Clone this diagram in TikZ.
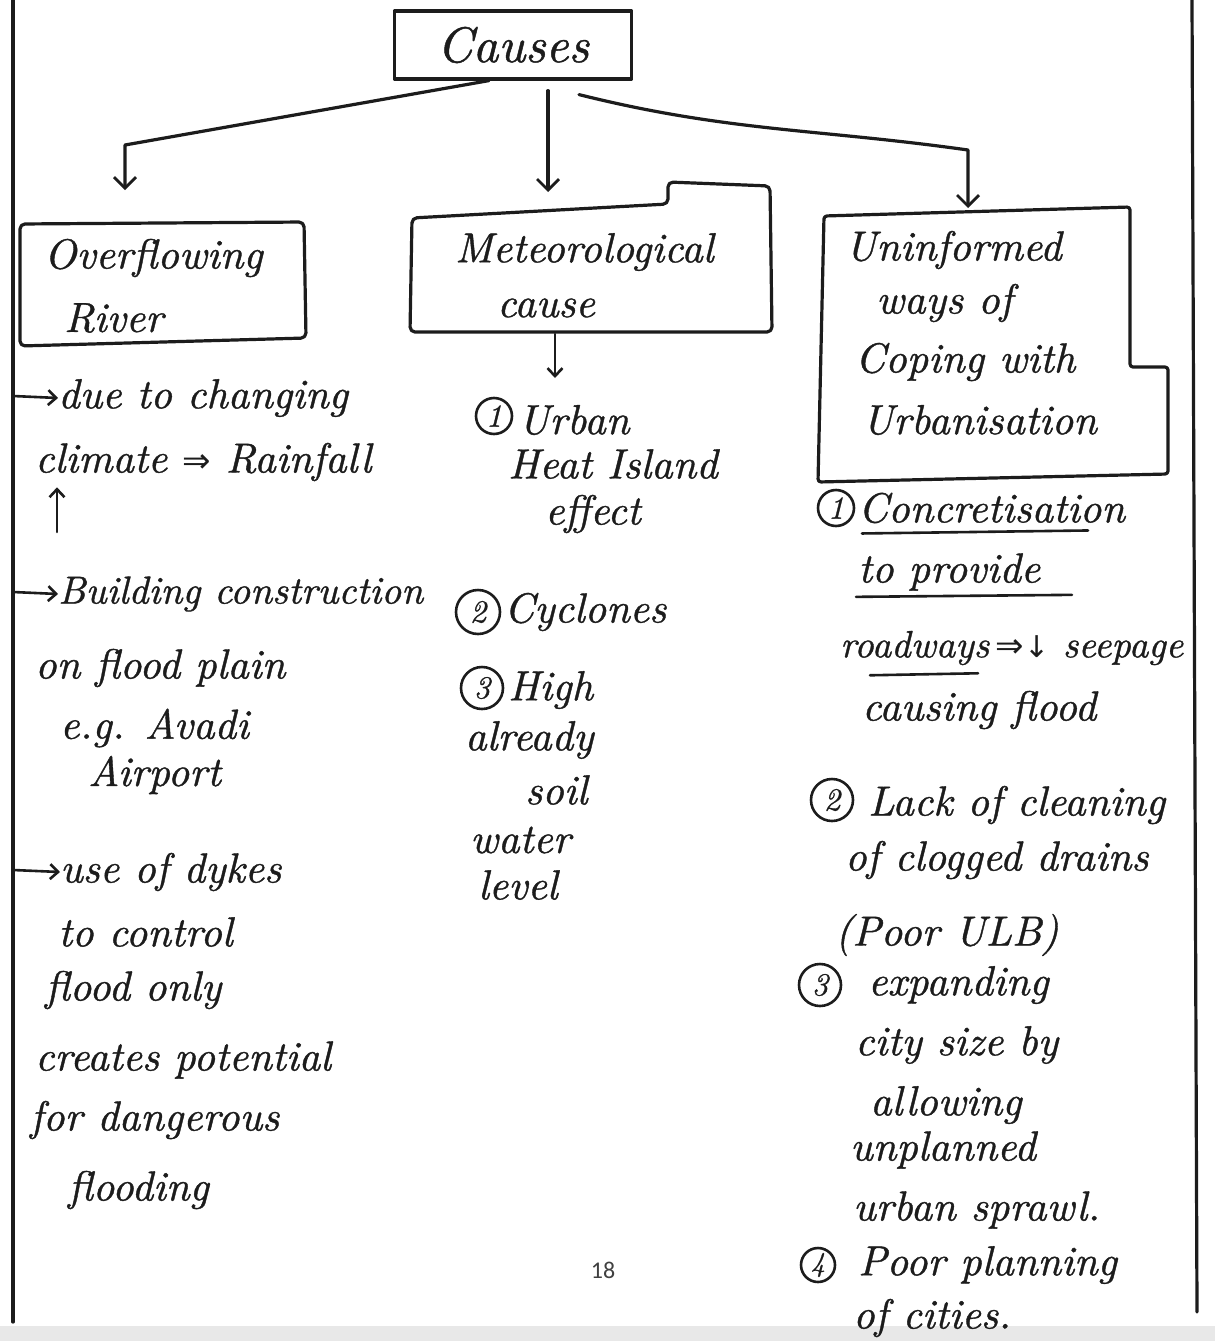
\documentclass[tikz,border=0pt]{standalone}
\usepackage{fontspec}
\newfontfamily\pagenumfont{Carlito}
\newfontfamily\hand{lmroman10-italic.otf}[FakeBold=0.9]
\newfontfamily\symfont{DejaVu Sans}
\usetikzlibrary{arrows.meta}
\definecolor{ink}{HTML}{1C1C1C}
\newcommand{\implarrow}{{\symfont\fontsize{34}{36}\selectfont ⇒}}
\newcommand{\downarr}{{\symfont\fontsize{30}{32}\selectfont ↓}}
\begin{document}
\begin{tikzpicture}[x=1pt,y=-1pt,
  hw/.style={font=\hand\fontsize{42}{46}\selectfont, text=ink, anchor=west, inner sep=0pt},
  pen/.style={draw=ink, line width=3.2pt, line join=round, line cap=round},
  conn/.style={pen, -{Straight Barb[length=11pt,width=22pt,line width=2.8pt]}},
  tick/.style={pen, line width=2.6pt, -{Straight Barb[length=8pt,width=15pt,line width=2.6pt]}},
  num/.style={circle, draw=ink, line width=2.6pt, minimum size=36pt, inner sep=0pt,
    font=\hand\fontsize{32}{34}\selectfont, text=ink},
  uline/.style={draw=ink, line width=2.6pt, line cap=round}
]
\useasboundingbox (0,0) rectangle (1215,1341);
\fill[white] (0,0) rectangle (1215,1341);
\fill[black!9] (0,1326) rectangle (1215,1341);

% page frame
\coordinate (frameL) at (13,0);
\coordinate (frameR) at (1192,0);
\draw[pen] (frameL) -- (13,1322);
\draw[pen] (frameR) -- (1197,1312);

% root
\node[pen, minimum width=237pt, minimum height=68pt, text=ink,
      font=\hand\fontsize{50}{54}\selectfont] (causes) at (513,45) {Causes};

% branch targets
\coordinate (riverTop) at (125,190);
\coordinate (meteoTop) at (548,192);
\coordinate (uninTop) at (968,208);

\draw[conn] ([xshift=-24pt]causes.south) -- (125,145) -- (riverTop);
\draw[conn] ([xshift=35pt,yshift=-10pt]causes.south) -- (meteoTop);
\draw[conn] ([xshift=66pt,yshift=-14pt]causes.south) to[out=-14,in=172] (968,150) -- (uninTop);

% ---------- box 1 ----------
\draw[pen, rounded corners=5pt] (20,224) -- (304,222) -- (306,338) -- (20,346) -- cycle;
\node[hw] (riverA) at (44,258) {Overflowing};
\node[hw] (riverB) at (64,318) {River};

% ---------- box 2 (with tab) ----------
\draw[pen, rounded corners=5pt] (412,218) -- (668,204) -- (668,182) -- (770,186) -- (772,332) -- (410,332) -- cycle;
\node[hw] (meteoA) at (455,252) {Meteorological};
\node[hw] (meteoB) at (497,308) {cause};

% ---------- box 3 (stepped) ----------
\draw[pen, rounded corners=3pt] (824,216) -- (1130,207) -- (1130,367) -- (1168,367) -- (1168,474) -- (818,482) -- cycle;
\node[hw] (uninA) at (845,250) {Uninformed};
\node[hw] (uninB) at (876,303) {ways of};
\node[hw] (uninC) at (855,362) {Coping with};
\node[hw] (uninD) at (862,420) {Urbanisation};

% ---------- column 1 ----------
\coordinate (L1) at (13,396);
\node[hw] (l1) at (58,398) {due to changing};
\draw[tick] (L1) -- (l1.west);
\node[hw] (l2) at (35,462) {climate \implarrow\ Rainfall};
\coordinate (upFoot) at (57,532);
\draw[tick] (upFoot) -- ([yshift=-6pt]upFoot |- l2.south);
\coordinate (L3) at (13,592);
\node[hw, font=\hand\fontsize{39}{43}\selectfont] (l3) at (58,594) {Building construction};
\draw[tick] (L3) -- (l3.west);
\node[hw] (l4) at (35,668) {on flood plain};
\node[hw] (l5) at (60,728) {e.g. Avadi};
\node[hw] (l6) at (88,775) {Airport};
\coordinate (L7) at (13,870);
\node[hw] (l7) at (60,872) {use of dykes};
\draw[tick] (L7) -- (l7.west);
\node[hw] (l8) at (58,932) {to control};
\node[hw] (l9) at (45,990) {flood only};
\node[hw] (l10) at (35,1060) {creates potential};
\node[hw] (l11) at (30,1120) {for dangerous};
\node[hw] (l12) at (68,1190) {flooding};

% ---------- column 2 ----------
\coordinate (meteoFoot) at (555,334);
\node[num] (n1) at (494,416) {1};
\node[hw] (m1) at (518,420) {Urban};
\draw[tick] (meteoFoot) -- ++(0,44);
\node[hw] (m2) at (508,464) {Heat Island};
\node[hw] (m3) at (545,514) {effect};
\node[num, minimum size=44pt] (n2) at (478,612) {2};
\node[hw] (m4) at (504,612) {Cyclones};
\node[num, minimum size=42pt] (n3) at (482,688) {3};
\node[hw] (m5) at (508,690) {High};
\node[hw] (m6) at (465,740) {already};
\node[hw] (m7) at (525,790) {soil};
\node[hw] (m8) at (470,840) {water};
\node[hw] (m9) at (478,885) {level};

% ---------- column 3 ----------
\node[num] (n4) at (836,508) {1};
\node[hw] (r1) at (858,508) {Concretisation};
\draw[uline] (r1.south west) ++(4,10) -- ++(226,-3);
\node[hw] (r2) at (858,572) {to provide};
\draw[uline] (r2.south west) ++(-2,6) -- ++(216,-2);
\node[hw, font=\hand\fontsize{38}{42}\selectfont] (r3) at (840,648) {roadways\,\implarrow\downarr\ seepage};
\draw[uline] (r3.south west) ++(30,10) -- ++(108,-2);
\node[hw] (r4) at (862,710) {causing flood};
\node[num, minimum size=42pt] (n5) at (832,800) {2};
\node[hw] (r5) at (868,805) {Lack of cleaning};
\node[hw] (r6) at (845,860) {of clogged drains};
\node[hw] (r7) at (835,935) {(Poor ULB)};
\node[num, minimum size=42pt] (n6) at (820,985) {3};
\node[hw] (r8) at (868,985) {expanding};
\node[hw] (r9) at (855,1045) {city size by};
\node[hw] (r10) at (870,1105) {allowing};
\node[hw] (r11) at (850,1150) {unplanned};
\node[hw] (r12) at (853,1210) {urban sprawl.};
\node[num, minimum size=34pt, font=\hand\fontsize{28}{30}\selectfont] (n7) at (818,1265) {4};
\node[hw] (r13) at (858,1265) {Poor planning};
\node[hw] (r14) at (853,1318) {of cities.};

% page number
\node[font=\pagenumfont\fontsize{24}{26}\selectfont, text=black!75] (page) at (603,1270) {18};
\end{tikzpicture}
\end{document}
